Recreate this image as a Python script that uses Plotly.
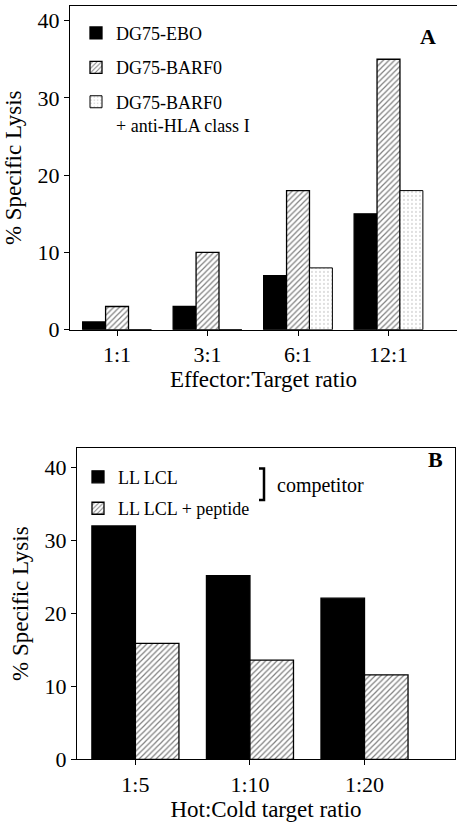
import plotly.graph_objects as go

# Panel A data
ratios_a = ["1:1", "3:1", "6:1", "12:1"]
ebo = [1, 3, 7, 15]
barf0 = [3, 10, 18, 35]
barf0_hla = [0, 0, 8, 18]
names_a = ["DG75-EBO", "DG75-BARF0", "DG75-BARF0<br>+ anti-HLA class I"]

# Panel B data
ratios_b = ["1:5", "1:10", "1:20"]
ll_lcl = [32, 25.2, 22.1]
ll_lcl_pep = [15.9, 13.6, 11.6]
names_b = ["LL LCL", "LL LCL + peptide"]

FONT = "Liberation Serif"
W, H = 457, 822

def px_x(p):
    return p / W

def px_y(p):
    return (H - p) / H

black = dict(color="black", line=dict(color="black", width=1.3))
hatch = dict(color="white", line=dict(color="black", width=1.3),
             pattern=dict(shape="/", fgcolor="black", bgcolor="white", size=4, solidity=0.3))
dots = dict(color="white", line=dict(color="black", width=1),
            pattern=dict(shape=".", fgcolor="#666666", bgcolor="white", size=4, solidity=0.12))

fig = go.Figure()
fig.add_trace(go.Bar(x=ratios_a, y=ebo, name=names_a[0], marker=black,
                     xaxis="x", yaxis="y", legend="legend", legendgroup="a1"))
fig.add_trace(go.Bar(x=ratios_a, y=barf0, name=names_a[1], marker=hatch,
                     xaxis="x", yaxis="y", legend="legend", legendgroup="a2"))
fig.add_trace(go.Bar(x=ratios_a, y=barf0_hla, name=names_a[2], marker=dots,
                     xaxis="x", yaxis="y", legend="legend", legendgroup="a3"))
fig.add_trace(go.Bar(x=ratios_b, y=ll_lcl, name=names_b[0], marker=black,
                     xaxis="x2", yaxis="y2", legend="legend2", legendgroup="b1"))
fig.add_trace(go.Bar(x=ratios_b, y=ll_lcl_pep, name=names_b[1], marker=hatch,
                     xaxis="x2", yaxis="y2", legend="legend2", legendgroup="b2"))

axis_common = dict(showgrid=False, zeroline=False, showline=True, linecolor="black",
                   linewidth=1, ticks="outside", ticklen=5, tickcolor="black",
                   tickfont=dict(family=FONT, size=22, color="black"))
title_font = dict(family=FONT, size=23, color="black")

fig.update_layout(
    width=W, height=H, margin=dict(l=0, r=0, t=0, b=0),
    paper_bgcolor="white", plot_bgcolor="white",
    barmode="group", bargap=0.24, bargroupgap=0,
    font=dict(family=FONT, color="black"),
    xaxis=dict(axis_common, domain=[px_x(70), 1.0], range=[-0.52, 3.757],
               type="category", anchor="y", mirror=True,
               title=dict(text="Effector:Target ratio", font=title_font, standoff=2)),
    yaxis=dict(axis_common, domain=[px_y(335), px_y(6)], range=[0, 41.9],
               tickvals=[0, 10, 20, 30, 40], anchor="x",
               title=dict(text="% Specific Lysis", font=title_font, standoff=9)),
    xaxis2=dict(axis_common, domain=[px_x(77), px_x(455)], range=[-0.51, 2.79],
                type="category", anchor="y2", mirror=True,
                title=dict(text="Hot:Cold target ratio", font=title_font, standoff=2)),
    yaxis2=dict(axis_common, domain=[px_y(771.7), px_y(455)], range=[0, 42.7],
                tickvals=[0, 10, 20, 30, 40], anchor="x2", mirror=True,
                title=dict(text="% Specific Lysis", font=title_font, standoff=9)),
    legend=dict(x=px_x(76), y=px_y(15), xanchor="left", yanchor="top",
                font=dict(family=FONT, size=18, color="black"), bgcolor="rgba(0,0,0,0)",
                tracegroupgap=8, valign="top"),
    legend2=dict(x=px_x(78), y=px_y(466), xanchor="left", yanchor="top",
                 font=dict(family=FONT, size=18, color="black"), bgcolor="rgba(0,0,0,0)",
                 tracegroupgap=5, valign="top"),
)

# Panel letters
fig.add_annotation(text="<b>A</b>", x=px_x(428), y=px_y(37), xref="paper", yref="paper",
                   xanchor="center", yanchor="middle",
                   showarrow=False, font=dict(family=FONT, size=22, color="black"))
fig.add_annotation(text="<b>B</b>", x=px_x(435), y=px_y(467), xref="paper", yref="paper",
                   xanchor="center", yanchor="middle",
                   showarrow=False, font=dict(family=FONT, size=22, color="black"))
# Bracket + competitor label
fig.add_shape(type="path", xref="paper", yref="paper",
              path=f"M {px_x(259)},{px_y(476)} L {px_x(264)},{px_y(476)} L {px_x(264)},{px_y(508)} L {px_x(259)},{px_y(508)}",
              line=dict(color="black", width=2.5))
fig.add_annotation(text="competitor", x=px_x(275), y=px_y(493), xref="paper", yref="paper",
                   xanchor="left", yanchor="middle", showarrow=False,
                   font=dict(family=FONT, size=20, color="black"))

fig.write_html("out.html")
